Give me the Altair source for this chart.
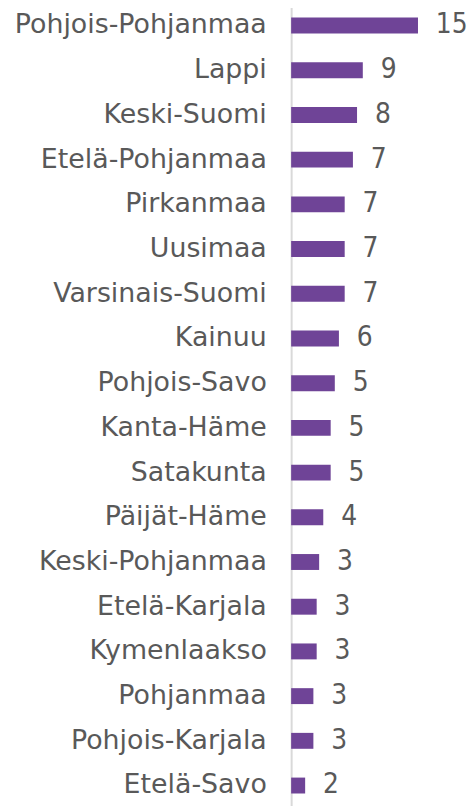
import altair as alt
import pandas as pd

regions = ["Pohjois-Pohjanmaa", "Lappi", "Keski-Suomi", "Etelä-Pohjanmaa", "Pirkanmaa",
           "Uusimaa", "Varsinais-Suomi", "Kainuu", "Pohjois-Savo", "Kanta-Häme",
           "Satakunta", "Päijät-Häme", "Keski-Pohjanmaa", "Etelä-Karjala", "Kymenlaakso",
           "Pohjanmaa", "Pohjois-Karjala", "Etelä-Savo"]
values = [15.4, 8.7, 8.0, 7.5, 6.5, 6.5, 6.5, 5.8, 5.3, 4.8, 4.8, 3.9, 3.4, 3.1, 3.1, 2.7, 2.7, 1.7]
labels = ["15", "9", "8", "7", "7", "7", "7", "6", "5", "5", "5", "4", "3", "3", "3", "3", "3", "2"]

df = pd.DataFrame({"region": regions, "value": values, "label": labels})

FONT = "DejaVu Sans"
VFONT = "DejaVu Sans Condensed"
step = 45
plot_w = 165

y = alt.Y("region:N", sort=regions, title=None,
          scale=alt.Scale(paddingInner=0.644, paddingOuter=0.322),
          axis=alt.Axis(labelFontSize=27, labelColor="#595959", labelFont=FONT,
                        labelPadding=25, ticks=False, domainColor="#d9d9d9",
                        domainWidth=2, labelLimit=400))
x = alt.X("value:Q", title=None, scale=alt.Scale(domain=[0, plot_w / 8.29], nice=False),
          axis=None)

bars = alt.Chart(df).mark_bar(color="#6F4497").encode(x=x, y=y)
text = alt.Chart(df).mark_text(align="left", baseline="middle", dx=18, fontSize=28,
                               font=VFONT, color="#595959").encode(x=x, y=y, text="label:N")

chart = (bars + text).properties(
    width=plot_w, height=step * 18,
    autosize=alt.AutoSizeParams(type="none"),
    padding={"left": 285, "top": -7.5, "right": 12, "bottom": 0},
).configure_view(stroke=None)

chart.save("out.html", embed_options={"renderer": "svg", "actions": False})
